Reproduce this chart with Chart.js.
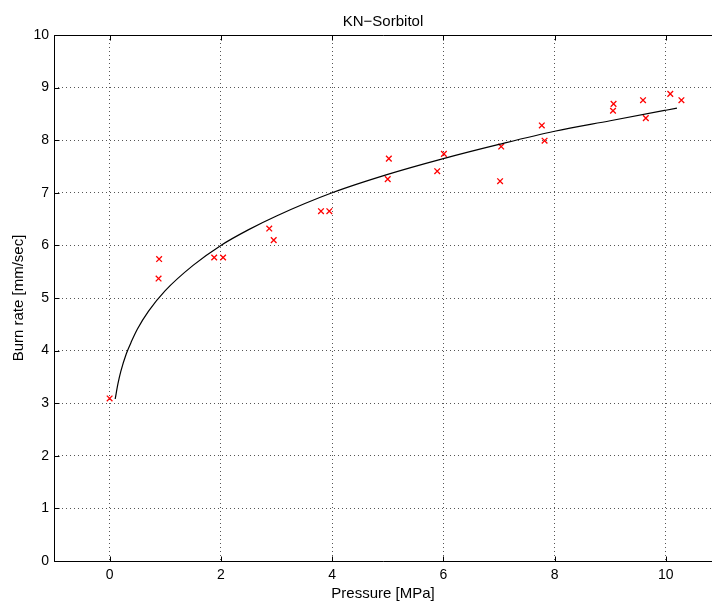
<!DOCTYPE html>
<html>
<head>
<meta charset="utf-8">
<script src="https://cdn.jsdelivr.net/npm/chart.js@4/dist/chart.umd.min.js"></script>
<style>
    body { margin: 0; background: #ffffff; overflow: hidden; }
    #wrap { width: 712px; height: 605px; }
</style>
</head>
<body>
<div id="wrap"><canvas id="chart" width="712" height="605"></canvas></div>
<script>
// measured points
let pressureData = [0, 0.88, 0.89, 1.88, 2.04, 2.87, 2.95, 3.80, 3.95, 5.00, 5.02, 5.89, 6.01,
    7.02, 7.04, 7.77, 7.82, 9.05, 9.06, 9.59, 9.64, 10.08, 10.28];
let burnRateData = [3.09, 5.37, 5.74, 5.77, 5.77, 6.32, 6.10, 6.65, 6.65, 7.26, 7.65, 7.41, 7.74,
    7.22, 7.88, 8.28, 7.99, 8.56, 8.69, 8.76, 8.42, 8.88, 8.76];

// fitted curve
let fitPressure = [0.1, 0.15, 0.2, 0.3, 0.4, 0.5, 0.7, 1, 1.5, 2, 2.5, 3, 4, 5, 6, 7, 8, 9, 10, 10.2];
let fitBurnRate = [3.08, 3.37, 3.60, 3.94, 4.19, 4.41, 4.75, 5.14, 5.62, 6.00, 6.30, 6.56, 7.00,
    7.35, 7.65, 7.92, 8.17, 8.37, 8.57, 8.61];

let xTickValues = [0, 2, 4, 6, 8, 10];
let yTickValues = [0, 1, 2, 3, 4, 5, 6, 7, 8, 9, 10];

let chartTitle = "KN\u2212Sorbitol";
let xLabel = "Pressure [MPa]";
let yLabel = "Burn rate [mm/sec]";

const fontFamily = "'Liberation Sans', Arial, Helvetica, sans-serif";

// black frame on top/left/bottom + small inward ticks like matlab
const framePlugin = {
    id: 'frame',
    afterDraw(chart) {
        const ctx = chart.ctx;
        const area = chart.chartArea;
        const xs = chart.scales.x;
        const ys = chart.scales.y;
        const l = Math.round(area.left) + 0.5;
        const t = Math.round(area.top) + 0.5;
        const b = Math.round(area.bottom) + 0.5;
        ctx.save();
        ctx.strokeStyle = '#000000';
        ctx.lineWidth = 1;
        ctx.beginPath();
        ctx.moveTo(area.right, t);
        ctx.lineTo(l, t);
        ctx.lineTo(l, b);
        ctx.lineTo(area.right, b);
        for (let v of xTickValues) {
            const px = Math.round(xs.getPixelForValue(v)) + 0.5;
            ctx.moveTo(px, b);
            ctx.lineTo(px, b - 5);
            ctx.moveTo(px, t);
            ctx.lineTo(px, t + 5);
        }
        for (let v of yTickValues) {
            const py = Math.round(ys.getPixelForValue(v)) + 0.5;
            ctx.moveTo(l, py);
            ctx.lineTo(l + 5, py);
        }
        ctx.stroke();
        ctx.restore();
    }
};

const ctx = document.getElementById('chart').getContext('2d');

new Chart(ctx, {
    type: 'scatter',
    data: {
        datasets: [{
            label: "fit",
            type: 'line',
            data: fitPressure.map((p, i) => ({ x: p, y: fitBurnRate[i] })),
            borderColor: '#000000',
            borderWidth: 1.2,
            pointRadius: 0,
            fill: false,
            cubicInterpolationMode: 'monotone'
        }, {
            label: "measured",
            data: pressureData.map((p, i) => ({ x: p, y: burnRateData[i] })),
            pointStyle: 'crossRot',
            pointRadius: 4,
            pointBorderWidth: 1.3,
            borderColor: '#ff0000',
            backgroundColor: '#ff0000'
        }]
    },
    plugins: [framePlugin],
    options: {
        responsive: false,
        animation: false,
        layout: { padding: 0, autoPadding: false },
        plugins: {
            legend: { display: false },
            tooltip: { enabled: false },
            title: {
                display: true,
                text: chartTitle,
                fullSize: false,
                color: '#000000',
                font: { family: fontFamily, size: 15, weight: 'normal', lineHeight: 1.2 },
                padding: { top: 13, bottom: 4 }
            }
        },
        scales: {
            x: {
                type: 'linear',
                min: -1,
                max: 10.83,
                afterBuildTicks: s => { s.ticks = xTickValues.map(v => ({ value: v })); },
                afterFit: s => { s.height = 44; s.paddingLeft = 0; s.paddingRight = 0; },
                grid: { color: '#555555', lineWidth: 1, drawTicks: false },
                border: { display: false, dash: [1, 3] },
                ticks: {
                    color: '#000000',
                    padding: 6,
                    maxRotation: 0,
                    font: { family: fontFamily, size: 14 }
                },
                title: {
                    display: true,
                    text: xLabel,
                    color: '#000000',
                    font: { family: fontFamily, size: 15, lineHeight: 1.2 },
                    padding: { top: 0, bottom: 2 }
                }
            },
            y: {
                type: 'linear',
                min: 0,
                max: 10,
                afterBuildTicks: s => { s.ticks = yTickValues.map(v => ({ value: v })); },
                afterFit: s => { s.width = 54; },
                grid: { color: '#555555', lineWidth: 1, drawTicks: false },
                border: { display: false, dash: [1, 3] },
                ticks: {
                    color: '#000000',
                    padding: 5,
                    font: { family: fontFamily, size: 14 }
                },
                title: {
                    display: true,
                    text: yLabel,
                    color: '#000000',
                    font: { family: fontFamily, size: 15, lineHeight: 1.2 },
                    padding: { top: 9.5, bottom: 0 }
                }
            }
        }
    }
});
</script>
</body>
</html>
